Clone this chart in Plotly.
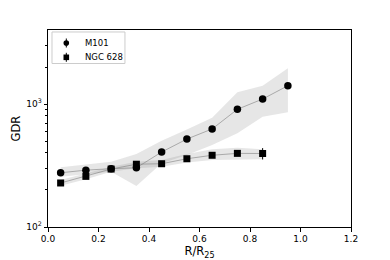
import plotly.graph_objects as go

radius = [0.05, 0.15, 0.25, 0.35, 0.45, 0.55, 0.65, 0.75, 0.85, 0.95]

m101_gdr = [276, 290, 298, 303, 407, 519, 627, 906, 1098, 1409]
m101_lo = [256, 270, 282, 215, 330, 385, 465, 578, 788, 856]
m101_hi = [306, 324, 340, 392, 503, 622, 774, 1245, 1409, 1950]
m101_err = [8, 8, 8, 8, 10, 12, 14, 18, 20, 25]

ngc_radius = [0.05, 0.15, 0.25, 0.35, 0.45, 0.55, 0.65, 0.75, 0.85]
ngc_gdr = [228, 258, 296, 324, 327, 359, 383, 397, 396]
ngc_lo = [216, 244, 282, 300, 309, 334, 351, 355, 355]
ngc_hi = [241, 273, 309, 340, 351, 392, 428, 442, 428]
ngc_err = [5, 5, 6, 6, 6, 7, 8, 8, 42]

legend_labels = ["M101", "NGC 628"]

band = "rgba(128,128,128,0.2)"
line = "rgba(128,128,128,0.6)"

fig = go.Figure()

for xs, lo, hi in [(radius, m101_lo, m101_hi), (ngc_radius, ngc_lo, ngc_hi)]:
    fig.add_trace(go.Scatter(x=xs + xs[::-1], y=hi + lo[::-1], fill="toself",
                             fillcolor=band, line=dict(width=0), mode="lines",
                             hoverinfo="skip", showlegend=False))

fig.add_trace(go.Scatter(x=radius, y=m101_gdr, mode="lines",
                         line=dict(color=line, width=1), showlegend=False))
fig.add_trace(go.Scatter(x=ngc_radius, y=ngc_gdr, mode="lines",
                         line=dict(color=line, width=1), showlegend=False))

fig.add_trace(go.Scatter(x=radius, y=m101_gdr, mode="markers", name=legend_labels[0],
                         marker=dict(symbol="circle", size=7.5, color="black"),
                         error_y=dict(type="data", array=m101_err, color="black",
                                      thickness=1, width=0), showlegend=False))
fig.add_trace(go.Scatter(x=ngc_radius, y=ngc_gdr, mode="markers", name=legend_labels[1],
                         marker=dict(symbol="square", size=7, color="black"),
                         error_y=dict(type="data", array=ngc_err, color="black",
                                      thickness=1, width=0), showlegend=False))

# manual compact legend (matplotlib style)
shapes = [dict(type="rect", xref="paper", yref="paper", x0=0.0132, x1=0.254,
               y0=0.830, y1=0.990, line=dict(color="#cccccc", width=1),
               fillcolor="rgba(255,255,255,0.8)", layer="above")]
rows = [(0.934, "circle"), (0.8614, "rect")]
annotations = []
for (yy, kind), label in zip(rows, legend_labels):
    shapes.append(dict(type=kind, xref="paper", yref="paper", xsizemode="pixel",
                       ysizemode="pixel", xanchor=0.0604, yanchor=yy,
                       x0=-2.8, x1=2.8, y0=-2.8, y1=2.8, fillcolor="black",
                       line=dict(width=0), layer="above"))
    shapes.append(dict(type="line", xref="paper", yref="paper", xsizemode="pixel",
                       ysizemode="pixel", xanchor=0.0604, yanchor=yy,
                       x0=0, x1=0, y0=-4.5, y1=4.5, line=dict(color="black", width=1),
                       layer="above"))
    annotations.append(dict(text=label, xref="paper", yref="paper", x=0.1155, y=yy,
                            xanchor="left", yanchor="middle", showarrow=False,
                            font=dict(size=8.5, color="black")))

fig.update_layout(
    width=390, height=260,
    margin=dict(l=48, r=39, t=30, b=33, autoexpand=False),
    paper_bgcolor="white", plot_bgcolor="white",
    font=dict(family="DejaVu Sans", size=9, color="black"),
    showlegend=False,
    shapes=shapes, annotations=annotations,
    xaxis=dict(range=[0, 1.2], dtick=0.2, tick0=0, tickformat=".1f",
               showline=True, linecolor="black", linewidth=1, mirror=True,
               ticks="outside", ticklen=3.5, tickcolor="black", showgrid=False,
               zeroline=False, automargin=False, tickfont=dict(size=9),
               title=dict(text="R/R<sub>25</sub>", font=dict(size=11.5), standoff=1)),
    yaxis=dict(type="log", range=[2, 3.602],
               tickvals=[100, 1000], ticktext=["10<sup>2</sup>", "10<sup>3</sup>"],
               showline=True, linecolor="black", linewidth=1, mirror=True,
               ticks="outside", ticklen=3.5, tickcolor="black", showgrid=False,
               zeroline=False, automargin=False, tickfont=dict(size=9),
               minor=dict(tickvals=[200, 300, 400, 500, 600, 700, 800, 900, 2000, 3000],
                          ticks="outside", ticklen=2, tickcolor="black"),
               title=dict(text="GDR", font=dict(size=11.5), standoff=3)),
)

fig.write_html("out.html", config={"displayModeBar": False},
               post_script="document.body.style.margin='0';document.body.style.padding='0';")
